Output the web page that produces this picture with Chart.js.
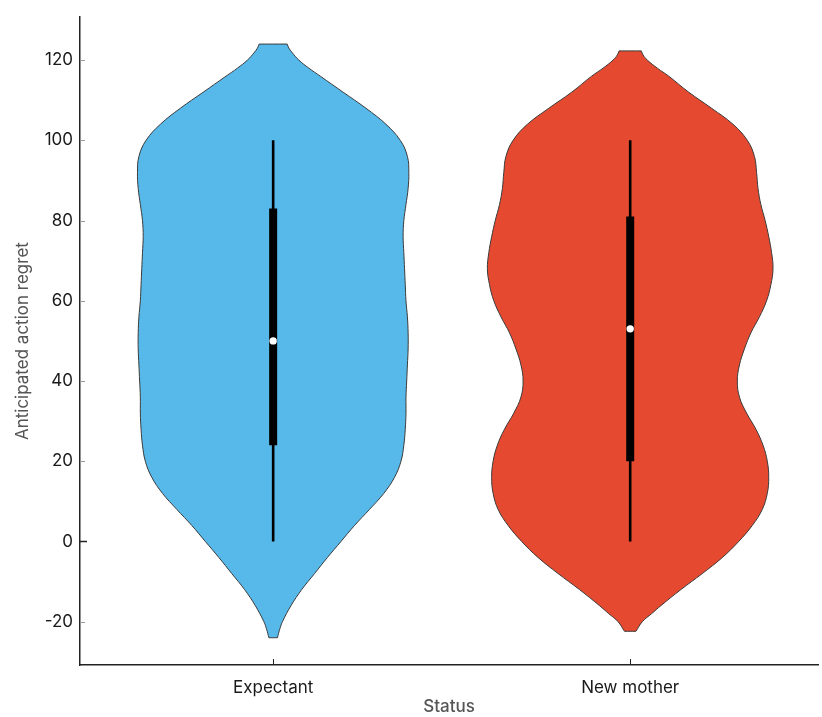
<!DOCTYPE html>
<html>
<head>
<meta charset="utf-8">
<script src="https://cdn.jsdelivr.net/npm/chart.js@4.4.1/dist/chart.umd.min.js"></script>
<style>
  html, body { margin: 0; padding: 0; background: #ffffff; }
  #wrap { width: 822px; height: 717px; }
</style>
</head>
<body>
<div id="wrap"><canvas id="chart" width="822" height="717"></canvas></div>
<script>
// Groups along the x axis
const categories = ["Expectant", "New mother"];

// Kernel density outline: value levels and relative density (1 = widest point)
const expectantLevels  = [124, 123, 122, 120, 118, 116, 112, 108, 104, 100, 96, 92, 88, 84, 80, 76, 72, 68, 64, 60, 56, 52, 48, 44, 40, 36, 32, 28, 24, 20, 16, 12, 8, 4, 0, -4, -8, -12, -16, -20, -22, -24];
const expectantDensity = [0.098, 0.11, 0.13, 0.18, 0.25, 0.33, 0.49, 0.65, 0.79, 0.89, 0.94, 0.95, 0.945, 0.93, 0.915, 0.91, 0.915, 0.92, 0.925, 0.93, 0.94, 0.945, 0.945, 0.94, 0.935, 0.93, 0.93, 0.925, 0.915, 0.895, 0.85, 0.775, 0.675, 0.57, 0.475, 0.38, 0.29, 0.20, 0.125, 0.065, 0.045, 0.03];

const motherLevels  = [122.3, 121.3, 120, 118, 116, 112, 108, 104, 100, 96, 92, 88, 84, 80, 76, 72, 68, 64, 60, 56, 52, 48, 44, 40, 36, 32, 28, 24, 20, 16, 12, 8, 4, 0, -4, -8, -12, -16, -18, -20, -22.4];
const motherDensity = [0.078, 0.09, 0.12, 0.19, 0.27, 0.41, 0.57, 0.72, 0.82, 0.87, 0.885, 0.895, 0.915, 0.945, 0.97, 0.99, 1.00, 0.985, 0.955, 0.905, 0.845, 0.80, 0.765, 0.75, 0.765, 0.815, 0.88, 0.93, 0.96, 0.97, 0.96, 0.925, 0.855, 0.76, 0.645, 0.505, 0.355, 0.215, 0.15, 0.085, 0.04];

// Box summary per group: [min, q1, median, q3, max]
const expectantSummary = [0, 24, 50, 83, 100];
const motherSummary    = [0, 20, 53, 81, 100];

// Y axis tick values
const yTicks = [-20, 0, 20, 40, 60, 80, 100, 120];

const fillColors = ["#56B9EA", "#E54A31"];
const outlineColor = "#3a3a3a";
const halfWidthMax = 0.4; // widest half-width, in category units

// Closed outline: right side top to bottom, then left side back up.
// End points are doubled so the cut-off top and bottom stay flat.
function violinPoints(center, levels, density) {
  const right = levels.map((v, i) => ({ x: center + density[i] * halfWidthMax, y: v }));
  const left = levels.map((v, i) => ({ x: center - density[i] * halfWidthMax, y: v })).reverse();
  const n = right.length;
  return [right[0], ...right, right[n - 1], left[0], ...left, left[n - 1], right[0]];
}

const groups = [
  { levels: expectantLevels, density: expectantDensity, summary: expectantSummary },
  { levels: motherLevels, density: motherDensity, summary: motherSummary }
];

const datasets = [];
groups.forEach((g, i) => {
  datasets.push({
    label: categories[i],
    data: violinPoints(i, g.levels, g.density),
    showLine: true,
    fill: 'shape',
    backgroundColor: fillColors[i],
    borderColor: outlineColor,
    borderWidth: 1,
    tension: 0.4,
    pointRadius: 0,
    order: 4
  });
  datasets.push({
    label: categories[i] + " range",
    data: [{ x: i, y: g.summary[0] }, { x: i, y: g.summary[4] }],
    showLine: true,
    borderColor: "#000000",
    borderWidth: 2.6,
    borderCapStyle: 'butt',
    pointRadius: 0,
    fill: false,
    order: 3
  });
  datasets.push({
    label: categories[i] + " quartiles",
    data: [{ x: i, y: g.summary[1] }, { x: i, y: g.summary[3] }],
    showLine: true,
    borderColor: "#000000",
    borderWidth: 8,
    borderCapStyle: 'butt',
    pointRadius: 0,
    fill: false,
    order: 2
  });
  datasets.push({
    label: categories[i] + " median",
    data: [{ x: i, y: g.summary[2] }],
    showLine: false,
    pointRadius: 3.7,
    pointBackgroundColor: "#ffffff",
    pointBorderWidth: 0,
    pointBorderColor: "#ffffff",
    order: 1
  });
});

// Short inward tick marks on both axes
const innerTicks = {
  id: 'innerTicks',
  afterDatasetsDraw(chart) {
    const { ctx, scales: { x, y } } = chart;
    ctx.save();
    yTicks.forEach(v => {
      const py = Math.round(y.getPixelForValue(v)) + 0.5;
      ctx.strokeStyle = v === 0 ? "#222222" : "#9a9a9a";
      ctx.lineWidth = v === 0 ? 1.5 : 1;
      ctx.beginPath();
      ctx.moveTo(x.left, py);
      ctx.lineTo(x.left + (v === 0 ? 7 : 5), py);
      ctx.stroke();
    });
    ctx.strokeStyle = "#222222";
    ctx.lineWidth = 1;
    categories.forEach((c, i) => {
      const px = Math.round(x.getPixelForValue(i)) + 0.5;
      ctx.beginPath();
      ctx.moveTo(px, y.bottom);
      ctx.lineTo(px, y.bottom - 6);
      ctx.stroke();
    });
    ctx.restore();
  }
};

new Chart(document.getElementById('chart'), {
  type: 'scatter',
  data: { datasets },
  plugins: [innerTicks],
  options: {
    responsive: false,
    animation: false,
    layout: { padding: { top: 15, right: 0, bottom: 0, left: 0 } },
    plugins: {
      legend: { display: false },
      tooltip: { enabled: false }
    },
    scales: {
      x: {
        type: 'linear',
        min: -0.541,
        max: 1.526,
        afterBuildTicks: (scale) => { scale.ticks = categories.map((c, i) => ({ value: i })); },
        afterFit: (scale) => { scale.height = 52; },
        grid: { display: false, drawTicks: false },
        border: { display: true, color: "#222222", width: 1.5 },
        ticks: {
          padding: 13,
          color: "#1a1a1a",
          font: { family: "Inter", size: 17 },
          maxRotation: 0,
          callback: (v) => categories[v] ?? ''
        },
        title: {
          display: true,
          text: "Status",
          color: "#555555",
          font: { family: "Inter", size: 17, weight: '500' },
          padding: { top: 0, bottom: 0 }
        }
      },
      y: {
        type: 'linear',
        min: -30.8,
        max: 130.7,
        afterBuildTicks: (scale) => { scale.ticks = yTicks.map(v => ({ value: v })); },
        afterFit: (scale) => { scale.width = 80; },
        grid: { display: false, drawTicks: false },
        border: { display: true, color: "#222222", width: 1.5 },
        ticks: {
          padding: 7,
          color: "#1a1a1a",
          font: { family: "Inter", size: 17 }
        },
        title: {
          display: true,
          text: "Anticipated action regret",
          color: "#555555",
          font: { family: "Inter", size: 17 },
          padding: { top: 13, bottom: 0 }
        }
      }
    }
  }
});
</script>
</body>
</html>
